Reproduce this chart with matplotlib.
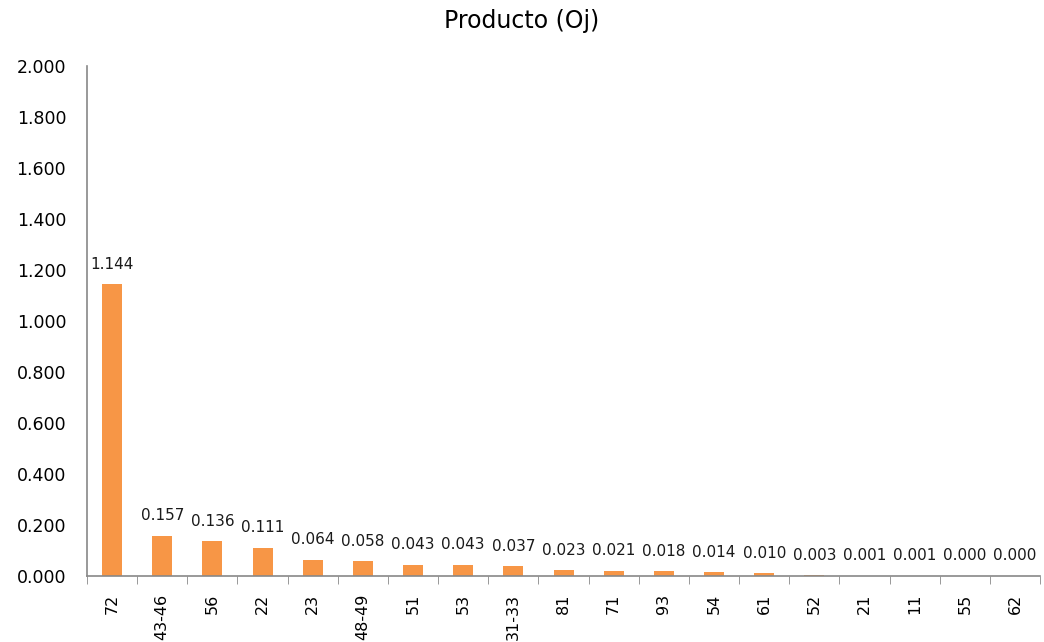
import matplotlib
matplotlib.use("Agg")
import matplotlib.pyplot as plt
import numpy as np

categories = ["72", "43-46", "56", "22", "23", "48-49", "51", "53", "31-33", "81",
              "71", "93", "54", "61", "52", "21", "11", "55", "62"]
values = [1.144, 0.157, 0.136, 0.111, 0.064, 0.058, 0.043, 0.043, 0.037, 0.023,
          0.021, 0.018, 0.014, 0.010, 0.003, 0.001, 0.001, 0.000, 0.000]
yticks = [0.0, 0.2, 0.4, 0.6, 0.8, 1.0, 1.2, 1.4, 1.6, 1.8, 2.0]
title = "Producto (Oj)"

plt.rcParams['font.family'] = ['DejaVu Sans']
fig = plt.figure(figsize=(10.44, 6.42), dpi=100)
ax = fig.add_axes([0.0833, 0.103, 0.913, 0.794])

x = np.arange(len(categories))
ax.bar(x, values, width=0.4, color="#F79646", linewidth=0, zorder=2)
for xi, v in zip(x, values):
    ax.annotate(f"{v:.3f}", (xi, v), xytext=(0, 9), textcoords="offset points",
                ha="center", va="bottom", fontsize=11, color="#1a1a1a")

ax.set_xlim(-0.5, len(categories) - 0.5)
ax.set_ylim(0, 2.0)
ax.set_yticks(yticks)
ax.set_yticklabels([f"{t:.3f}" for t in yticks], fontsize=12.5)
ax.tick_params(axis='y', length=0, pad=15)
ax.set_xticks(x)
ax.set_xticklabels(categories, rotation=90, fontsize=11.5, va="top")
ax.tick_params(axis='x', which='major', length=0, pad=13)
ax.set_xticks(np.arange(-0.5, len(categories)), minor=True)
ax.tick_params(axis='x', which='minor', length=6, color="#888888")

for s in ["top", "right"]:
    ax.spines[s].set_visible(False)
ax.spines["left"].set_color("#888888")
ax.spines["bottom"].set_color("#888888")
ax.spines["left"].set_linewidth(1.2)
ax.spines["bottom"].set_linewidth(1.2)

fig.text(0.5, 0.968, title, ha="center", va="center", fontsize=17)
fig.savefig("out.png", dpi=100)
